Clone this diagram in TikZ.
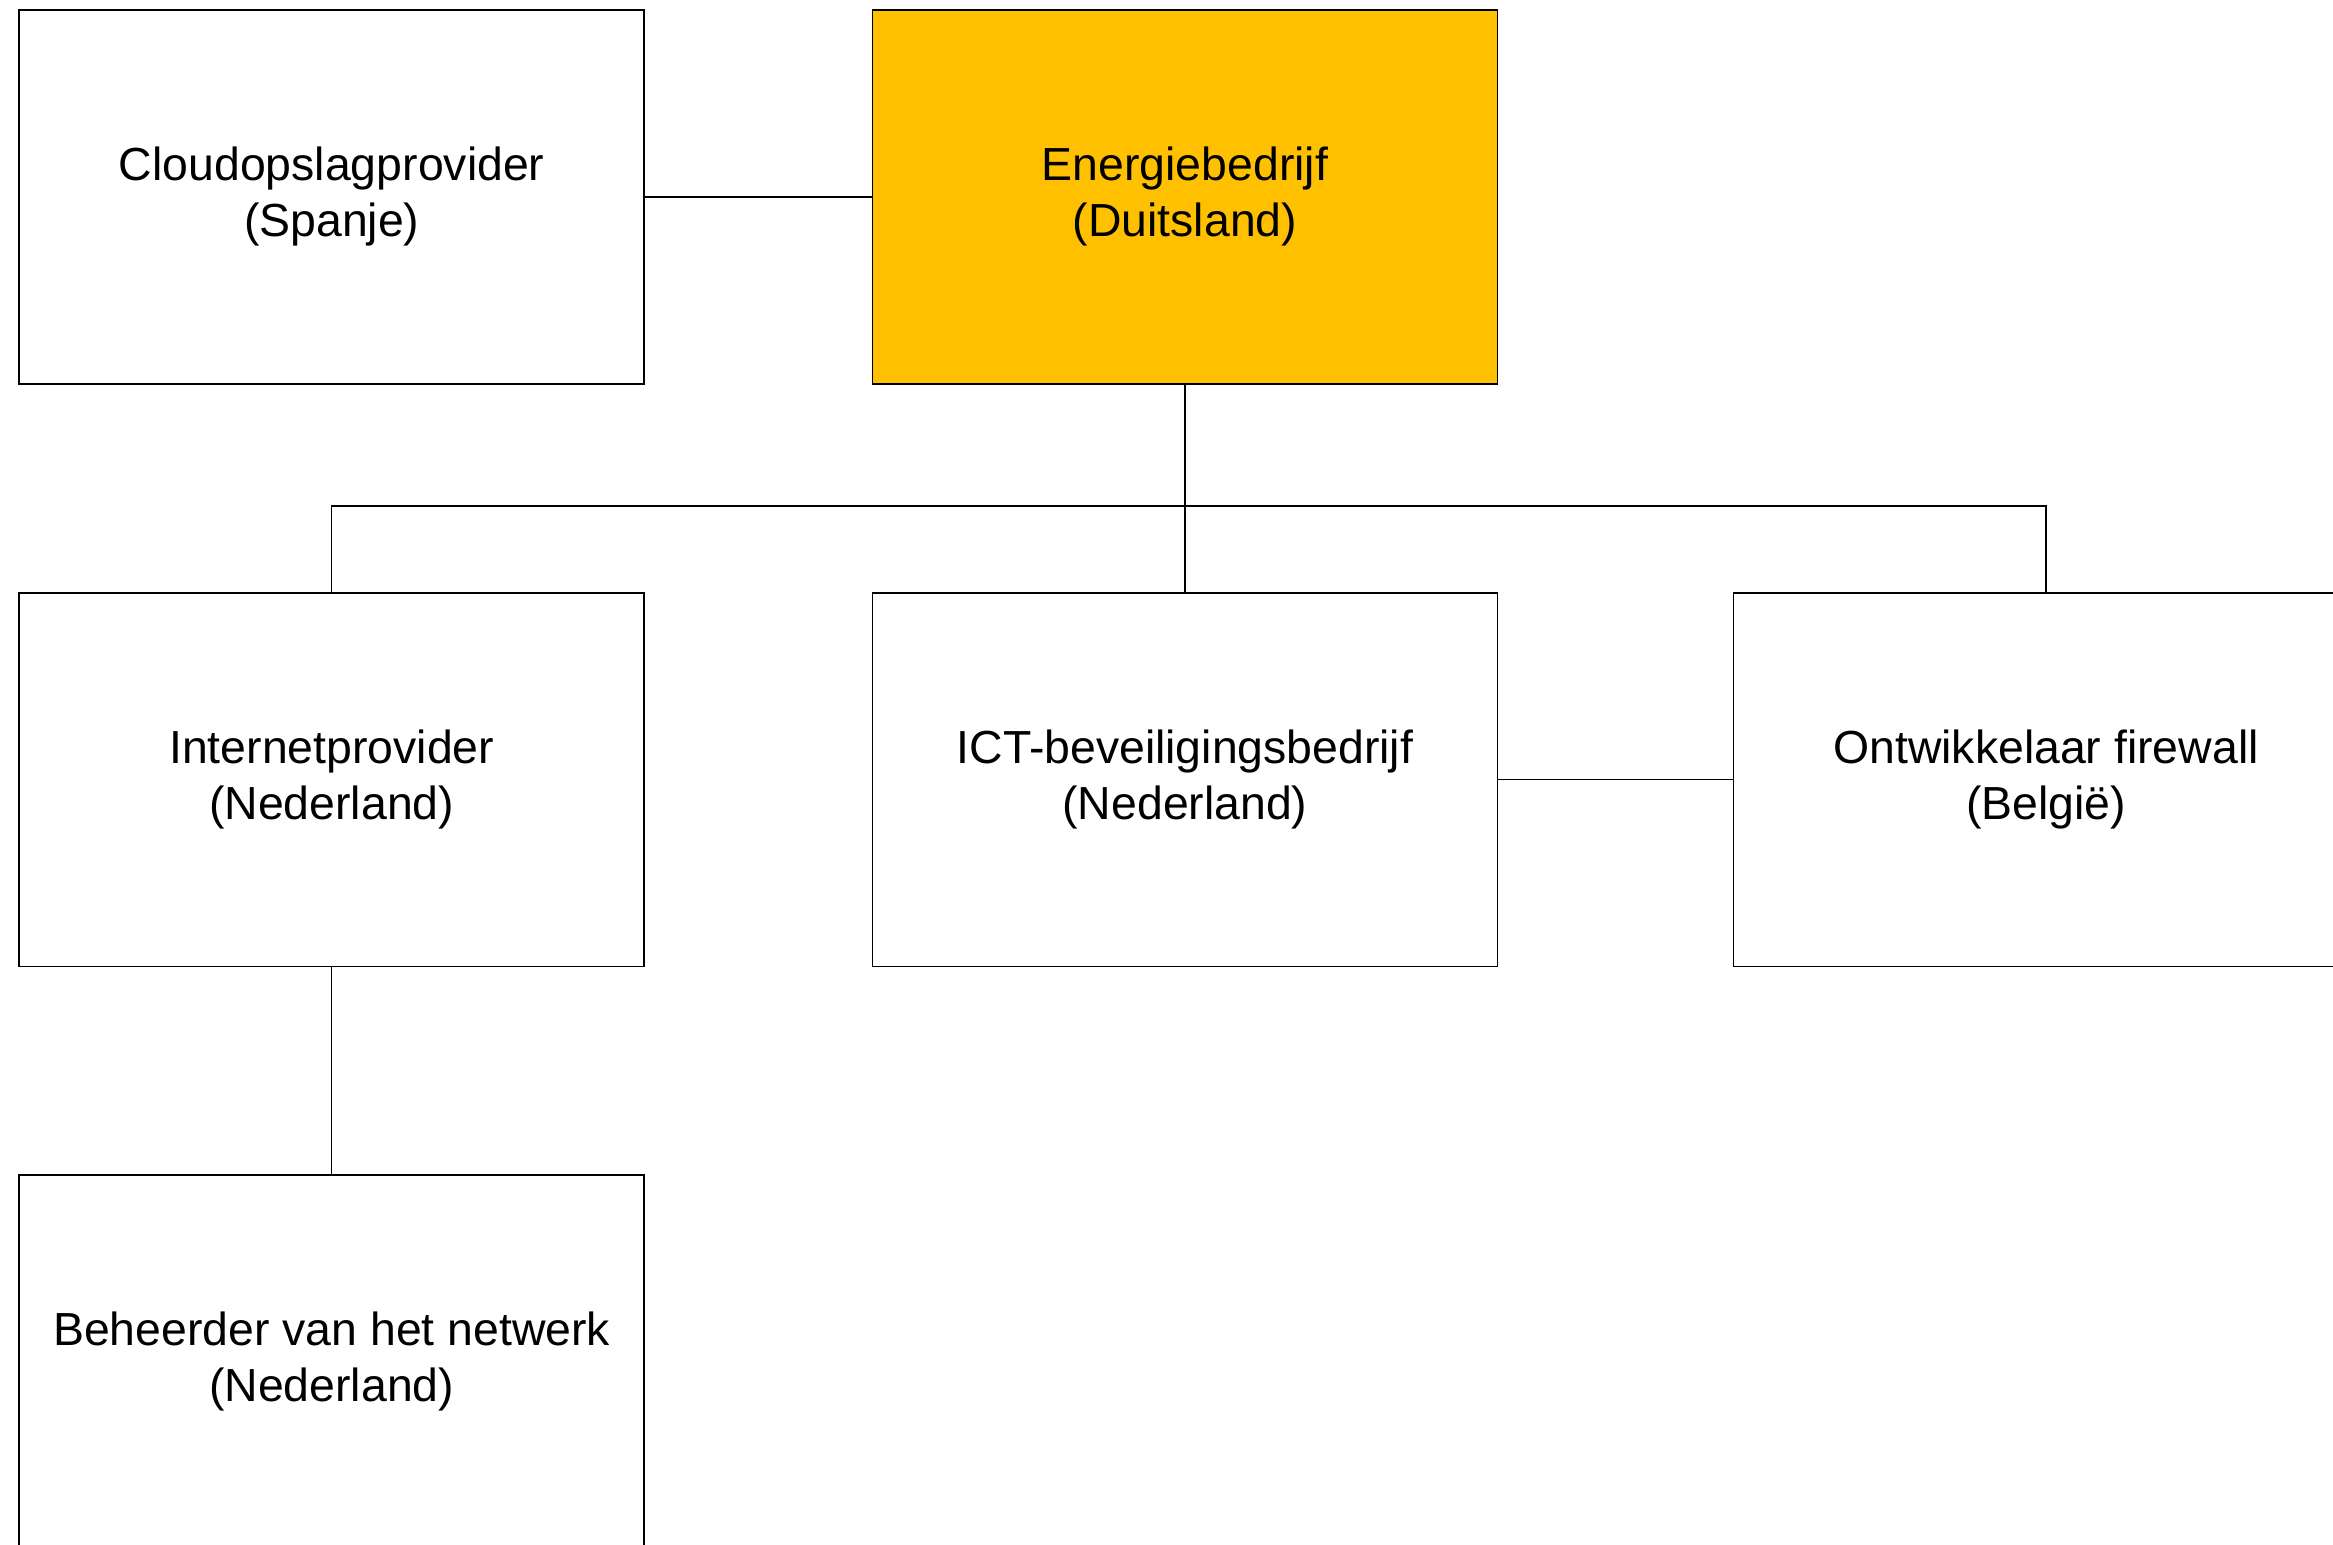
\documentclass[tikz,border=0pt]{standalone}
\usepackage{fontspec}
\setmainfont{Liberation Sans}
\usepackage{tikz}
\definecolor{energiegeel}{HTML}{FFC000}
\tikzset{
  orgbox/.style={draw=black, line width=0.45pt, minimum width=6.25cm, minimum height=3.735cm,
    align=center, text depth=0.1cm, font=\fontsize{13.2pt}{16pt}\selectfont},
  verbinding/.style={draw=black, line width=0.45pt}
}
\begin{document}
\begin{tikzpicture}
\useasboundingbox (0,0) rectangle (23.33,-15.44);
\node[orgbox] (cloud) at (3.317,-1.97) {Cloudopslagprovider\\(Spanje)};
\node[orgbox, fill=energiegeel] (energie) at (11.85,-1.97) {Energiebedrijf\\(Duitsland)};
\node[orgbox] (internet) at (3.317,-7.796) {Internetprovider\\(Nederland)};
\node[orgbox] (ict) at (11.85,-7.796) {ICT-beveiligingsbedrijf\\(Nederland)};
\node[orgbox] (ontw) at (20.46,-7.796) {Ontwikkelaar firewall\\(België)};
\node[orgbox] (beheer) at (3.317,-13.62) {Beheerder van het netwerk\\(Nederland)};
\coordinate (bus) at (11.85,-5.06);
\draw[verbinding] (cloud.east) -- (energie.west);
\draw[verbinding] (energie.south) -- (ict.north);
\draw[verbinding] (internet.north) |- (bus) -| (ontw.north);
\draw[verbinding] (ict.east) -- (ontw.west);
\draw[verbinding] (internet.south) -- (beheer.north);
\end{tikzpicture}
\end{document}
